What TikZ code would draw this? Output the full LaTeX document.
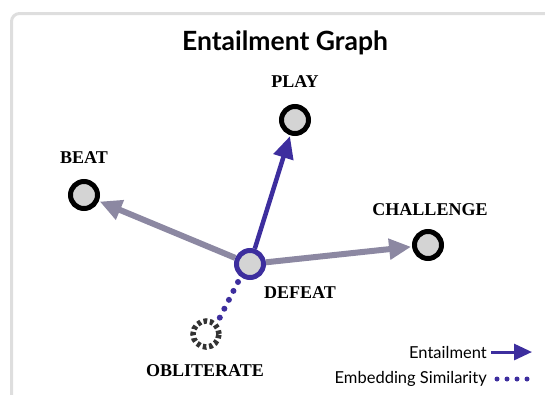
\documentclass[tikz,border=0pt]{standalone}
\usepackage{fontspec}
\setmainfont{Liberation Serif}
\newfontfamily\latofont{Lato}
\usetikzlibrary{arrows.meta, positioning}
\definecolor{entblue}{HTML}{3D2E9E}
\definecolor{simgray}{HTML}{8C88A2}
\definecolor{nodefill}{HTML}{D4D4D4}
\tikzset{verb/.style={circle,draw=black,line width=5pt,fill=nodefill,minimum size=27pt,inner sep=0pt},
         query/.style={verb,draw=entblue},
         neighbour/.style={circle,draw=black!80,line width=5.5pt,dash pattern=on 3.6pt off 2.8pt,fill=white,minimum size=26pt,inner sep=0pt},
         lbl/.style={font=\fontsize{18}{18}\selectfont\bfseries,inner sep=1pt},
         legend/.style={font=\latofont\fontsize{16.5}{16.5}\selectfont,anchor=east,inner sep=1pt},
         entail/.style={-{Triangle[length=22pt,width=20pt]},line width=4.5pt,entblue,shorten >=1pt},
         weak/.style={-{Triangle[length=22pt,width=20pt]},line width=6pt,simgray,shorten >=1pt},
         similar/.style={line width=6pt,entblue,line cap=round,dash pattern=on 0pt off 10pt}}

\begin{document}
\begin{tikzpicture}[x=1pt,y=-1pt]
    \useasboundingbox (0,0) rectangle (545,394);
    % Frame and title
    \draw[line width=3pt,black!13,rounded corners=8pt] (11.5,13.5) rectangle (570,420);
    \node (title) at (285,43) {\latofont\bfseries\fontsize{26.5}{26.5}\selectfont Entailment Graph};
    % Verbs
    \node (defeat) at (250,264) [query]{};
    \node (play) at (295,120) [verb]{};
    \node (beat) at (84,195) [verb]{};
    \node (challenge) at (428,245) [verb]{};
    \node (obliterate) at (206,334) [neighbour]{};
    % Labels
    \node (playlbl) at (295,82) [lbl]{PLAY};
    \node (beatlbl) at (84,158) [lbl]{BEAT};
    \node (challengelbl) at (430,210) [lbl]{CHALLENGE};
    \node (defeatlbl) at (300,293) [lbl]{DEFEAT};
    \node (obliteratelbl) at (205,371) [lbl]{OBLITERATE};
    % Edges
    \draw[weak] (defeat) -- (beat);
    \draw[weak] (defeat) -- (challenge);
    \draw[entail] (defeat) -- (play);
    \draw[similar] ([shift={(-12,18)}]defeat.center) -- (obliterate.north east);
    % Legend
    \node (entlegend) at (488,352) [legend]{Entailment};
    \node (simlegend) at (488,379) [legend]{Embedding Similarity};
    \coordinate (entend) at (533,352);
    \coordinate (simstart) at (497,379);
    \coordinate (simend) at (530,379);
    \draw[entail,-{Triangle[length=18pt,width=16pt]},line width=3pt] (entlegend.east) ++(3,0) -- (entend);
    \draw[similar,line width=5pt] (simstart) -- (simend);
\end{tikzpicture}
\end{document}
